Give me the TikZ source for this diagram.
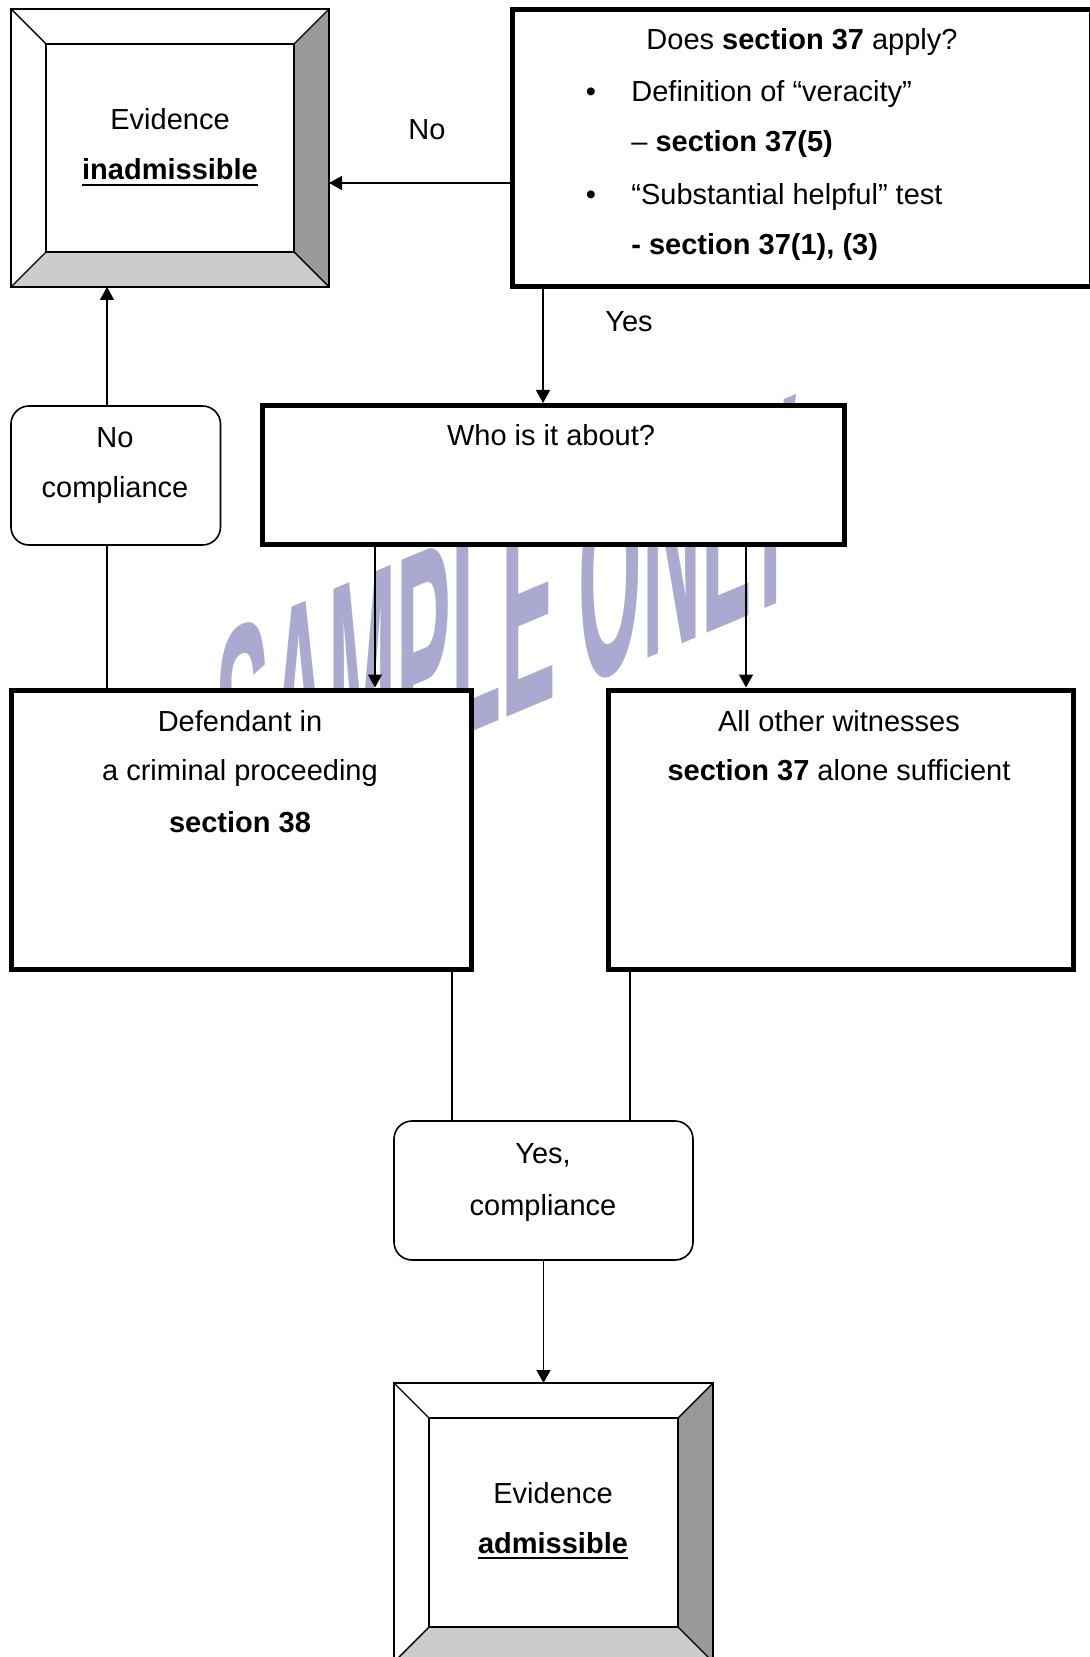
\documentclass[tikz,border=0pt]{standalone}
\usepackage{fontspec}
\setmainfont{Liberation Sans}
\usetikzlibrary{arrows.meta,calc}
\definecolor{bevdark}{gray}{0.6}
\definecolor{bevlight}{gray}{0.8}
\definecolor{stampcol}{RGB}{170,170,208}
\tikzset{bevelbox/.style={rectangle,inner sep=0pt,outer sep=0pt,draw=black,line width=0.7pt,fill=white}}
\tikzset{bevline/.style={draw=black,line width=0.7pt}}
\tikzset{thickbox/.style={rectangle,inner sep=0pt,draw=black,line width=2.5pt,fill=white}}
\tikzset{roundbox/.style={rectangle,inner sep=0pt,rounded corners=9pt,draw=black,line width=0.8pt,fill=white}}
\tikzset{txt/.style={inner sep=0pt,anchor=base,font=\fontsize{14.5}{17}\selectfont}}
\tikzset{stamp/.style={inner sep=0pt,anchor=base west,text=stampcol,font=\fontsize{146}{146}\selectfont\bfseries,yslant=0.42,xscale=0.28}}
\tikzset{conn/.style={line width=0.7pt}}
\tikzset{arr/.style={conn,-{Triangle[length=6.5pt,width=7pt]}}}
\newcommand{\underlined}[1]{\setbox0\hbox{#1}\rlap{\rule[-3pt]{\wd0}{1pt}}\box0}
\newcommand{\bevel}[1]{%
  \fill[bevdark] (#1.north east) -- (#1.south east) -- ($(#1.south east)+(-35,-35)$) -- ($(#1.north east)+(-35,35)$) -- cycle;
  \fill[bevlight] (#1.south west) -- (#1.south east) -- ($(#1.south east)+(-35,-35)$) -- ($(#1.south west)+(35,-35)$) -- cycle;
  \draw[bevline] ($(#1.north west)+(35,35)$) rectangle ($(#1.south east)+(-35,-35)$);
  \draw[bevline] (#1.north west) -- ++(35,35) (#1.north east) -- ++(-35,35)
                 (#1.south west) -- ++(35,-35) (#1.south east) -- ++(-35,-35);
  \draw[bevline] (#1.north west) rectangle (#1.south east);
}
\begin{document}
\begin{tikzpicture}[x=0.5pt,y=-0.5pt]
  \useasboundingbox (0,0) rectangle (1090,1657);
  % watermark
  \node[stamp] (wm) at (215,840) {SAMPLE ONLY};
  % boxes
  \node[bevelbox,minimum width=159pt,minimum height=139pt] (inadm) at (170,148) {};
  \bevel{inadm}
  \node[thickbox,minimum width=289.5pt,minimum height=138.5pt] (query) at (801.5,148.5) {};
  \node[thickbox,minimum width=291pt,minimum height=69.5pt] (who) at (553,475) {};
  \node[roundbox,minimum width=104.75pt,minimum height=69.5pt] (nocomp) at (115.75,475.5) {};
  \node[thickbox,minimum width=230pt,minimum height=139.5pt] (defend) at (241,829.5) {};
  \node[thickbox,minimum width=232.5pt,minimum height=139.5pt] (other) at (840.5,829.5) {};
  \node[roundbox,minimum width=149.5pt,minimum height=69.5pt] (yescomp) at (543.5,1190.5) {};
  \node[bevelbox,minimum width=159.5pt,minimum height=139.5pt] (adm) at (553.5,1522.5) {};
  \bevel{adm}
  % connectors
  \draw[arr] (query.west |- 0,183) -- (inadm.east |- 0,183);
  \draw[arr] (543,0 |- query.south) -- (543,0 |- who.north);
  \draw[arr] (375,0 |- who.south) -- (375,0 |- defend.north);
  \draw[arr] (746,0 |- who.south) -- (746,0 |- other.north);
  \draw[conn] (107,0 |- defend.north) -- (107,0 |- nocomp.south);
  \draw[arr] (107,0 |- nocomp.north) -- (107,0 |- inadm.south);
  \draw[conn] (452,0 |- defend.south) -- (452,0 |- yescomp.north);
  \draw[conn] (630,0 |- other.south) -- (630,0 |- yescomp.north);
  \draw[arr] (yescomp.south) -- (yescomp.south |- adm.north);
  % texts
  \node[txt] (inadm1) at (170,130) {Evidence};
  \node[txt] (inadm2) at (170,180) {\underlined{\textbf{inadmissible}}};
  \node[txt] (q1) at (802,50) {Does \textbf{section 37} apply?};
  \node[txt] (b1) at (591,102) {\textbullet};
  \node[txt,anchor=base west] (q2) at (631,102) {Definition of “veracity”};
  \node[txt,anchor=base west] (q3) at (631,152) {– \textbf{section 37(5)}};
  \node[txt] (b2) at (591,205) {\textbullet};
  \node[txt,anchor=base west] (q4) at (631,205) {“Substantial helpful” test};
  \node[txt,anchor=base west] (q5) at (631,255) {\textbf{- section 37(1), (3)}};
  \node[txt] (lno) at (427,140) {No};
  \node[txt] (lyes) at (629,332) {Yes};
  \node[txt] (who1) at (551,446) {Who is it about?};
  \node[txt] (nc1) at (115,448) {No};
  \node[txt] (nc2) at (115,498) {compliance};
  \node[txt] (d1) at (240,731) {Defendant in};
  \node[txt] (d2) at (240,780) {a criminal proceeding};
  \node[txt] (d3) at (240,832) {\textbf{section 38}};
  \node[txt] (o1) at (839,731) {All other witnesses};
  \node[txt] (o2) at (839,780) {\textbf{section 37} alone sufficient};
  \node[txt] (yc1) at (543,1163) {Yes,};
  \node[txt] (yc2) at (543,1215) {compliance};
  \node[txt] (adm1) at (553,1503) {Evidence};
  \node[txt] (adm2) at (553,1553) {\underlined{\textbf{admissible}}};
\end{tikzpicture}
\end{document}
